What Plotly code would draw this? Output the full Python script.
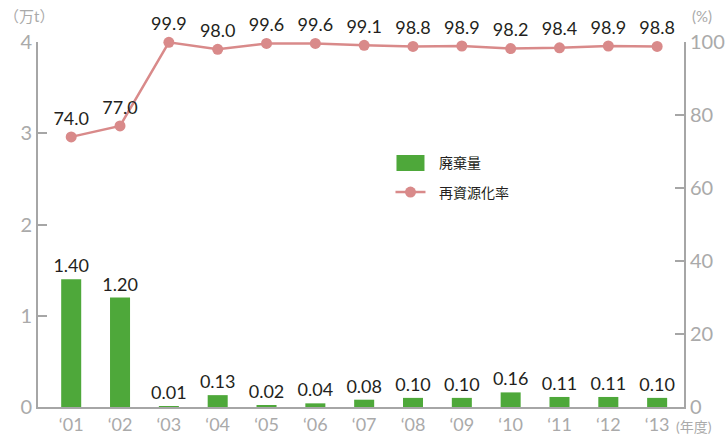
import plotly.graph_objects as go

# Fiscal years and series values
years = ["‘01", "‘02", "‘03", "‘04", "‘05", "‘06", "‘07", "‘08", "‘09", "‘10", "‘11", "‘12", "‘13"]
waste_amount = [1.40, 1.20, 0.01, 0.13, 0.02, 0.04, 0.08, 0.10, 0.10, 0.16, 0.11, 0.11, 0.10]
recycle_rate = [74.0, 77.0, 99.9, 98.0, 99.6, 99.6, 99.1, 98.8, 98.9, 98.2, 98.4, 98.9, 98.8]
series_names = ["廃棄量", "再資源化率"]

left_ticks = [0, 1, 2, 3, 4]
right_ticks = [0, 20, 40, 60, 80, 100]

BAR_COLOR = "#4ea83a"
LINE_COLOR = "#d98a8a"
AXIS_COLOR = "#a6a6a6"
TICK_FONT_COLOR = "#aaaaaa"
TEXT_COLOR = "#231f20"
FONT = "Lato, 'Noto Sans CJK JP', sans-serif"

fig = go.Figure()

fig.add_trace(go.Bar(
    x=years, y=waste_amount, name=series_names[0],
    marker=dict(color=BAR_COLOR, line=dict(width=0)),
    width=0.41,
    text=[f"{v:.2f}" for v in waste_amount],
    textposition="outside",
    constraintext="none",
    textfont=dict(size=18, color=TEXT_COLOR, family=FONT),
    cliponaxis=False,
))

fig.add_trace(go.Scatter(
    x=years, y=recycle_rate, name=series_names[1], yaxis="y2",
    mode="lines+markers+text",
    line=dict(color=LINE_COLOR, width=2.5),
    marker=dict(color=LINE_COLOR, size=11),
    text=[f"{v:.1f}" for v in recycle_rate],
    textposition="top center",
    textfont=dict(size=18, color=TEXT_COLOR, family=FONT),
    cliponaxis=False,
))

# Legend drawn in the plot area: wide bar swatch and line-with-dot key
LEG_X, LEG_TEXT_X = 0.5766, 0.6176
LEG_Y = [0.6685, 0.589]
legend_shapes = [
    dict(type="rect", xref="paper", yref="paper", xsizemode="pixel", ysizemode="pixel",
         xanchor=LEG_X, yanchor=LEG_Y[0], x0=-14, x1=14, y0=-8, y1=8,
         fillcolor=BAR_COLOR, line=dict(width=0)),
    dict(type="line", xref="paper", yref="paper", xsizemode="pixel", ysizemode="pixel",
         xanchor=LEG_X, yanchor=LEG_Y[1], x0=-15, x1=15, y0=0, y1=0,
         line=dict(color=LINE_COLOR, width=2.5)),
    dict(type="circle", xref="paper", yref="paper", xsizemode="pixel", ysizemode="pixel",
         xanchor=LEG_X, yanchor=LEG_Y[1], x0=-5.5, x1=5.5, y0=-5.5, y1=5.5,
         fillcolor=LINE_COLOR, line=dict(width=0)),
]
legend_labels = [
    dict(text=name, xref="paper", yref="paper", x=LEG_TEXT_X, y=yy,
         xanchor="left", yanchor="middle", showarrow=False,
         font=dict(size=14, color=TEXT_COLOR, family=FONT))
    for name, yy in zip(series_names, LEG_Y)
]

fig.update_layout(
    width=727, height=435,
    margin=dict(l=38, r=43, t=42, b=28, autoexpand=False),
    paper_bgcolor="white", plot_bgcolor="white",
    font=dict(family=FONT),
    showlegend=False,
    shapes=legend_shapes,
    xaxis=dict(
        range=[-0.68, 12.55], automargin=False,
        showline=True, linecolor=AXIS_COLOR, linewidth=2,
        ticks="", showgrid=False,
        tickfont=dict(size=18, color=TICK_FONT_COLOR, family=FONT),
    ),
    yaxis=dict(
        range=[0, 4], tickvals=left_ticks, automargin=False,
        showline=True, linecolor=AXIS_COLOR, linewidth=2,
        ticks="inside", ticklen=9, tickwidth=2, tickcolor=AXIS_COLOR,
        showgrid=False, zeroline=False,
        tickfont=dict(size=20, color=TICK_FONT_COLOR, family=FONT),
    ),
    yaxis2=dict(
        range=[0, 100], tickvals=right_ticks, automargin=False,
        overlaying="y", side="right",
        showline=True, linecolor=AXIS_COLOR, linewidth=2,
        ticks="inside", ticklen=9, tickwidth=2, tickcolor=AXIS_COLOR,
        showgrid=False, zeroline=False,
        tickfont=dict(size=20, color=TICK_FONT_COLOR, family=FONT),
    ),
    annotations=legend_labels + [
        dict(text="（万t）", xref="paper", yref="paper", x=-0.055, y=1.0, yshift=26,
             xanchor="left", yanchor="middle", showarrow=False,
             font=dict(size=15, color=TICK_FONT_COLOR, family=FONT)),
        dict(text="(%)", xref="paper", yref="paper", x=1.0, xshift=6, y=1.0, yshift=26,
             xanchor="left", yanchor="middle", showarrow=False,
             font=dict(size=15, color=TICK_FONT_COLOR, family=FONT)),
        dict(text="(年度)", xref="paper", yref="paper", x=1.0, xshift=-10, y=0, yshift=-19,
             xanchor="left", yanchor="middle", showarrow=False,
             font=dict(size=14, color=TICK_FONT_COLOR, family=FONT)),
    ],
)

fig.write_html("out.html")
